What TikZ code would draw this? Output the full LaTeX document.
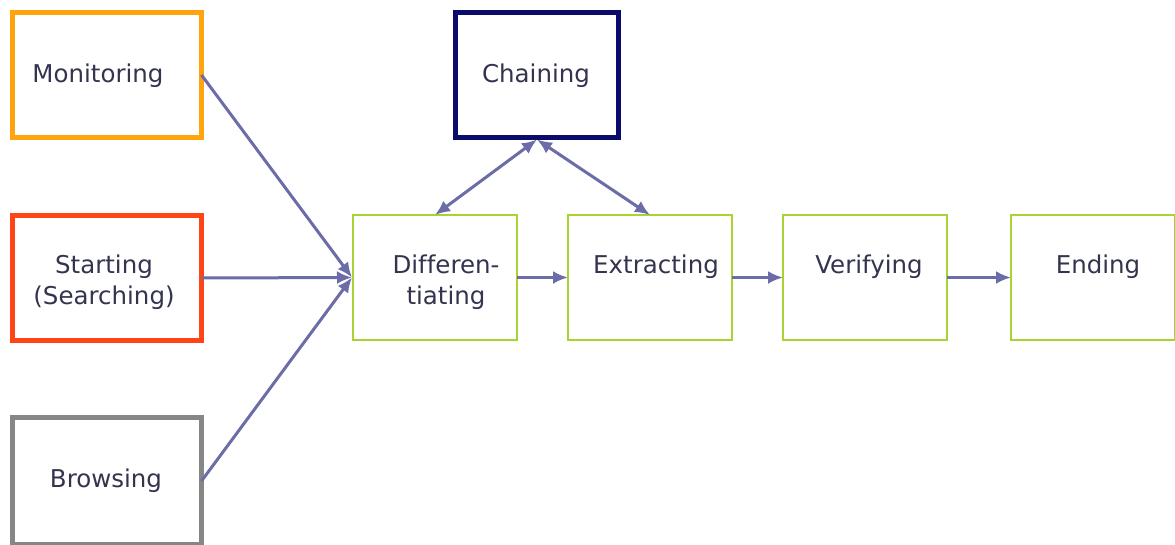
\documentclass[tikz,border=0pt]{standalone}
\usepackage{fontspec}
\setmainfont{DejaVu Sans}[Ligatures=NoCommon]
\usetikzlibrary{arrows.meta,calc}
\definecolor{cOrange}{HTML}{FFA30F}
\definecolor{cRed}{HTML}{FF4516}
\definecolor{cGray}{HTML}{868686}
\definecolor{cNavy}{HTML}{0B0B6B}
\definecolor{cGreen}{HTML}{A8D432}
\definecolor{cArrow}{HTML}{6C6CA8}
\definecolor{cText}{HTML}{34344F}
\tikzset{
  thickbox/.style={draw, line width=4.5pt, minimum width=189pt, minimum height=125pt, inner sep=0pt, outer sep=0pt, fill=white},
  thinbox/.style={draw=cGreen, line width=1.8pt, minimum width=164pt, minimum height=125pt, inner sep=0pt, outer sep=0pt, fill=white},
  lbl/.style={text=cText, font=\fontsize{24.5}{31}\selectfont, align=center, inner sep=0pt},
  flow/.style={draw=cArrow, line width=3pt, -{Latex[length=15pt,width=13pt]}},
  biflow/.style={draw=cArrow, line width=3pt, {Latex[length=15pt,width=13pt]}-{Latex[length=15pt,width=13pt]}}
}
\begin{document}
\begin{tikzpicture}[x=1pt,y=-1pt]
\useasboundingbox (0,0) rectangle (1175,544);
\fill[white] (0,0) rectangle (1175,544);
% boxes
\node[thickbox, draw=cOrange] (mon) at (107,75) {};
\node[thickbox, draw=cRed] (sta) at (107,278) {};
\node[thickbox, draw=cGray, minimum height=127pt] (bro) at (107,481) {};
\node[thickbox, draw=cNavy, minimum width=163pt] (cha) at (537,75) {};
\node[thinbox] (dif) at (435,277.5) {};
\node[thinbox] (ext) at (650,277.5) {};
\node[thinbox] (ver) at (865,277.5) {};
\node[thinbox] (end) at (1093,277.5) {};
% labels
\node[lbl] (monT) at (98,75.5) {Monitoring};
\node[lbl] (staT) at (104,282) {Starting\\(Searching)};
\node[lbl] (broT) at (106,480.5) {Browsing};
\node[lbl] (chaT) at (536,75.5) {Chaining};
\node[lbl] (difT) at (446,282) {Differen-\\tiating};
\node[lbl] (extT) at (656,266.5) {Extracting};
\node[lbl] (verT) at (869,266.5) {Verifying};
\node[lbl] (endT) at (1098,266.5) {Ending};
% connectors
\coordinate (din) at ($(dif.west)+(-1,0)$);
\draw[flow] (mon.east) -- (din);
\draw[flow] (sta.east) -- (din);
\draw[flow] (bro.east) -- (din);
\draw[flow] (dif.east) -- (ext.west);
\draw[flow] (ext.east) -- (ver.west);
\draw[flow] (ver.east) -- (end.west);
\draw[biflow] (dif.north) -- ($(cha.south)+(0,2)$);
\draw[biflow] ($(cha.south)+(0,2)$) -- (ext.north);
\end{tikzpicture}
\end{document}
